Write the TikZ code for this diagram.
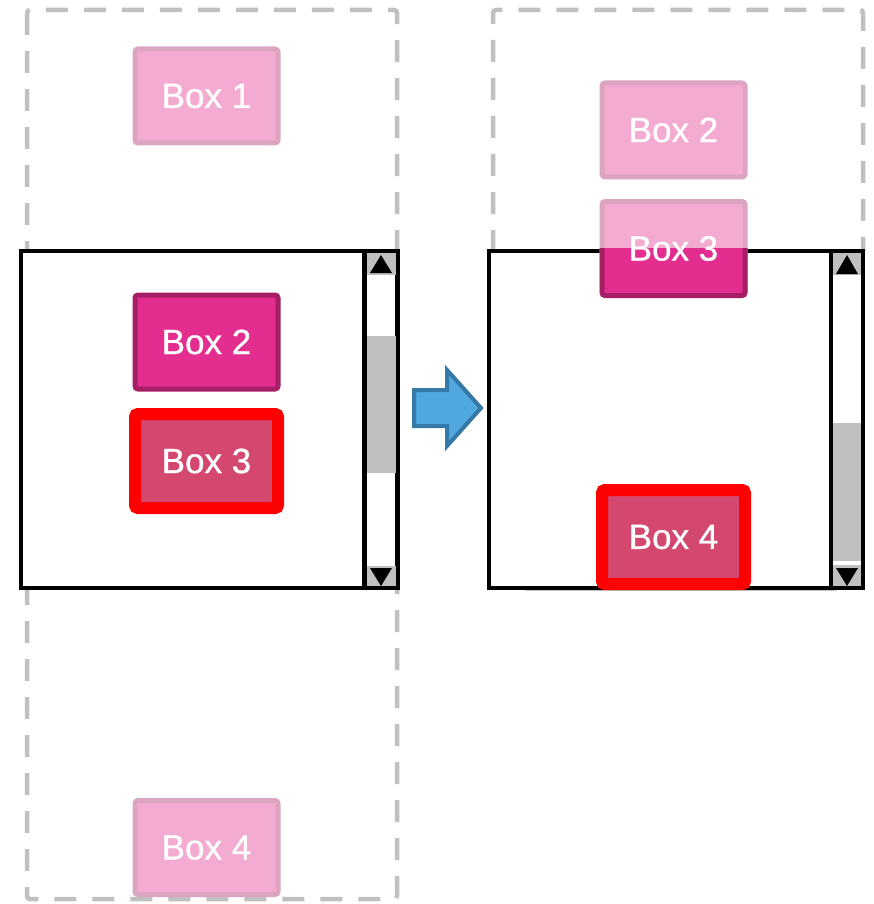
\documentclass[tikz,border=0pt]{standalone}
\usepackage{fontspec}
\setmainfont{Liberation Sans}
\newfontfamily\boxfont{Liberation Sans}[BoldFont={Liberation Sans},BoldFeatures={FakeBold=0.8}]
\usetikzlibrary{calc}
\definecolor{dashgrey}{HTML}{C0C0C0}
\definecolor{fadefill}{HTML}{F4ABD2}
\definecolor{fadedraw}{HTML}{DBA5C2}
\definecolor{pinkfill}{HTML}{E32D8F}
\definecolor{pinkdraw}{HTML}{A61E66}
\definecolor{selfill}{HTML}{D4486F}
\definecolor{arrowfill}{HTML}{4FA8DE}
\definecolor{arrowdraw}{HTML}{3579A6}
\tikzset{
  boxbase/.style={rectangle, rounded corners=3pt, inner sep=0pt, text=white,
    font=\boxfont\bfseries\fontsize{35}{40}\selectfont, minimum width=143pt, minimum height=94pt},
  fadebox/.style={boxbase, fill=fadefill, draw=fadedraw, line width=5pt},
  pinkbox/.style={boxbase, fill=pinkfill, draw=pinkdraw, line width=5pt},
  selbox/.style={boxbase, fill=selfill, draw=red, line width=12pt},
  dashframe/.style={draw=dashgrey, line width=4.5pt, dash pattern=on 22pt off 16pt, rounded corners=3pt},
  viewport/.style={draw=black, fill=white, line width=4.5pt},
  sbpart/.style={fill=dashgrey},
  sbarrow/.style={fill=black},
  bigarrow/.style={fill=arrowfill, draw=arrowdraw, line width=4pt, line join=miter}
}
\begin{document}
\begin{tikzpicture}[x=1pt,y=-1pt]
\useasboundingbox (0,0) rectangle (873,904);
% ---------------- left panel ----------------
\draw[dashframe] (27,10) rectangle (397,899);
\node[fadebox] (lb1) at (206.5,96) {Box 1};
\node[fadebox] (lb4) at (206.5,847.5) {Box 4};
\draw[viewport] (21,251) rectangle (397.5,588);
% scrollbar
\fill[sbpart] (366.5,253) rectangle (395.5,275);
\fill[sbpart] (366.5,336) rectangle (395.5,473);
\fill[sbpart] (366.5,566) rectangle (395.5,586);
\fill[sbarrow] (381,255) -- (392,273) -- (370,273) -- cycle;
\fill[sbarrow] (381,586) -- (392,568) -- (370,568) -- cycle;
\draw[black, line width=4.5pt] (364.5,251) -- (364.5,588);
\node[pinkbox] (lb2) at (206.5,342) {Box 2};
\node[selbox] (lb3) at (206.5,461) {Box 3};
% ---------------- right panel ----------------
\draw[dashframe] (493,252) -- (493,10) -- (863,10) -- (863,252);
\draw[dashgrey, line width=2pt] (525,590) -- (836,590);
\draw[viewport] (489,251) rectangle (863,588);
\fill[sbpart] (833,253) rectangle (861,275);
\fill[sbpart] (833,423) rectangle (861,561);
\fill[sbpart] (833,565) rectangle (861,586);
\fill[sbarrow] (847,255) -- (858,274) -- (836,274) -- cycle;
\fill[sbarrow] (847,586) -- (858,568) -- (836,568) -- cycle;
\draw[black, line width=4.5pt] (831,251) -- (831,588);
\node[fadebox] (rb2) at (673.5,130) {Box 2};
\node[fadebox] (rb3) at (673.5,248.5) {Box 3};
\begin{scope}
  \clip (480,248) rectangle (873,600);
  \node[pinkbox] (rb3s) at (673.5,248.5) {Box 3};
\end{scope}
\node[selbox] (rb4) at (673.5,537) {Box 4};
% ---------------- arrow ----------------
\draw[bigarrow] (414,390) -- (447,390) -- (447,370) -- (481,408) -- (447,446) -- (447,426) -- (414,426) -- cycle;
\end{tikzpicture}
\end{document}
